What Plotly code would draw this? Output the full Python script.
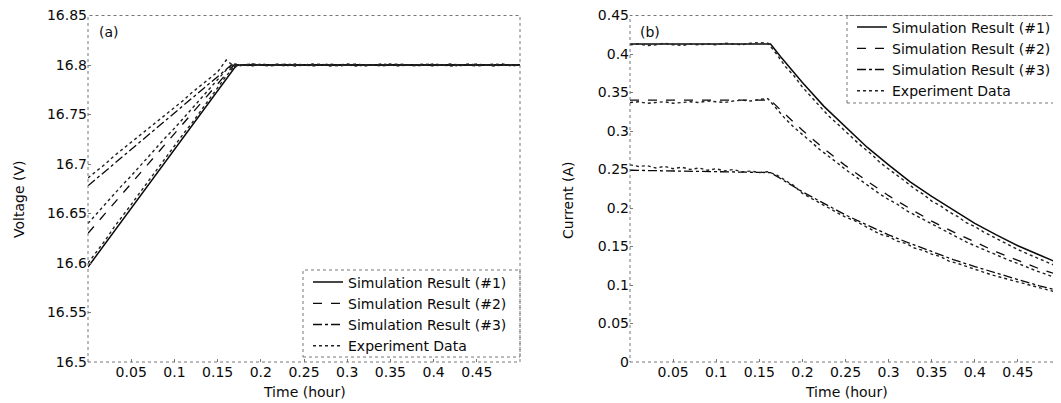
import plotly.graph_objects as go

# ---------------- data ----------------
x_ticks = [0.05, 0.1, 0.15, 0.2, 0.25, 0.3, 0.35, 0.4, 0.45]
x_tick_text = ["0.05", "0.1", "0.15", "0.2", "0.25", "0.3", "0.35", "0.4", "0.45"]
v_ticks = [16.5, 16.55, 16.6, 16.65, 16.7, 16.75, 16.8, 16.85]
v_tick_text = ["16.5", "16.55", "16.6", "16.65", "16.7", "16.75", "16.8", "16.85"]
i_ticks = [0, 0.05, 0.1, 0.15, 0.2, 0.25, 0.3, 0.35, 0.4, 0.45]
i_tick_text = ["0", "0.05", "0.1", "0.15", "0.2", "0.25", "0.3", "0.35", "0.4", "0.45"]

# simulated voltage (hour, V)
t_sim_v1 = [0.0, 0.172, 0.5]
sim_v1 = [16.596, 16.800, 16.800]
t_sim_v2 = [0.0, 0.169, 0.5]
sim_v2 = [16.630, 16.800, 16.800]
t_sim_v3 = [0.0, 0.166, 0.5]
sim_v3 = [16.678, 16.800, 16.800]

# measured data time grid (hour)
t_exp = [0.00, 0.01, 0.02, 0.03, 0.04, 0.05, 0.06, 0.07, 0.08, 0.09,
         0.10, 0.11, 0.12, 0.13, 0.14, 0.15, 0.16, 0.17, 0.18, 0.19,
         0.20, 0.21, 0.22, 0.23, 0.24, 0.25, 0.26, 0.27, 0.28, 0.29,
         0.30, 0.31, 0.32, 0.33, 0.34, 0.35, 0.36, 0.37, 0.38, 0.39,
         0.40, 0.41, 0.42, 0.43, 0.44, 0.45, 0.46, 0.47, 0.48, 0.49, 0.50]

exp_v1 = [16.600, 16.611, 16.623, 16.636, 16.647, 16.659, 16.671, 16.683, 16.694, 16.706,
          16.718, 16.730, 16.741, 16.753, 16.765, 16.777, 16.789, 16.799, 16.800, 16.801,
          16.800, 16.799, 16.800, 16.801, 16.800, 16.800, 16.799, 16.800, 16.801, 16.800,
          16.800, 16.799, 16.800, 16.800, 16.801, 16.800, 16.799, 16.800, 16.800, 16.801,
          16.800, 16.800, 16.799, 16.800, 16.800, 16.801, 16.800, 16.799, 16.800, 16.800, 16.800]
exp_v2 = [16.640, 16.650, 16.659, 16.669, 16.679, 16.688, 16.698, 16.707, 16.717, 16.727,
          16.736, 16.746, 16.756, 16.765, 16.775, 16.785, 16.795, 16.801, 16.800, 16.799,
          16.801, 16.800, 16.800, 16.799, 16.801, 16.800, 16.800, 16.801, 16.799, 16.800,
          16.801, 16.800, 16.799, 16.800, 16.800, 16.801, 16.800, 16.800, 16.799, 16.800,
          16.801, 16.800, 16.800, 16.799, 16.801, 16.800, 16.800, 16.800, 16.801, 16.799, 16.800]
exp_v3 = [16.686, 16.693, 16.700, 16.708, 16.715, 16.722, 16.729, 16.736, 16.743, 16.750,
          16.757, 16.764, 16.772, 16.779, 16.786, 16.793, 16.805, 16.798, 16.800, 16.801,
          16.800, 16.800, 16.801, 16.800, 16.799, 16.800, 16.801, 16.800, 16.800, 16.799,
          16.800, 16.801, 16.800, 16.800, 16.799, 16.800, 16.801, 16.800, 16.800, 16.800,
          16.799, 16.800, 16.801, 16.800, 16.800, 16.799, 16.800, 16.801, 16.800, 16.800, 16.800]

# simulated current (hour, A)
t_sim_i = [0.0, 0.163, 0.175, 0.2, 0.225, 0.25, 0.275, 0.3, 0.325, 0.35,
           0.375, 0.4, 0.425, 0.45, 0.475, 0.5]
sim_i1 = [0.413, 0.413, 0.396, 0.363, 0.332, 0.305, 0.279, 0.256, 0.234, 0.215,
          0.197, 0.180, 0.165, 0.151, 0.139, 0.127]
sim_i2 = [0.340, 0.340, 0.327, 0.301, 0.277, 0.255, 0.235, 0.216, 0.199, 0.183,
          0.169, 0.156, 0.143, 0.132, 0.121, 0.112]
sim_i3 = [0.249, 0.246, 0.238, 0.221, 0.206, 0.191, 0.178, 0.165, 0.154, 0.143,
          0.133, 0.124, 0.115, 0.107, 0.099, 0.092]

exp_i1 = [0.412, 0.413, 0.411, 0.412, 0.414, 0.412, 0.411, 0.413, 0.412, 0.413,
          0.412, 0.414, 0.413, 0.412, 0.414, 0.415, 0.414, 0.400, 0.384, 0.372,
          0.357, 0.345, 0.333, 0.320, 0.310, 0.299, 0.289, 0.279, 0.270, 0.259,
          0.251, 0.242, 0.234, 0.225, 0.218, 0.209, 0.203, 0.195, 0.189, 0.181,
          0.176, 0.169, 0.163, 0.158, 0.151, 0.146, 0.141, 0.136, 0.131, 0.127, 0.122]
exp_i2 = [0.337, 0.338, 0.336, 0.337, 0.338, 0.336, 0.337, 0.338, 0.337, 0.339,
          0.338, 0.337, 0.339, 0.340, 0.339, 0.341, 0.342, 0.329, 0.316, 0.305,
          0.296, 0.286, 0.276, 0.268, 0.259, 0.250, 0.242, 0.233, 0.226, 0.218,
          0.211, 0.205, 0.197, 0.191, 0.185, 0.179, 0.173, 0.167, 0.162, 0.156,
          0.151, 0.146, 0.141, 0.137, 0.132, 0.128, 0.123, 0.119, 0.115, 0.111, 0.107]
exp_i3 = [0.256, 0.254, 0.255, 0.252, 0.254, 0.251, 0.253, 0.250, 0.252, 0.249,
          0.251, 0.248, 0.250, 0.247, 0.248, 0.246, 0.247, 0.243, 0.236, 0.229,
          0.219, 0.213, 0.207, 0.200, 0.195, 0.188, 0.184, 0.178, 0.173, 0.166,
          0.163, 0.157, 0.154, 0.148, 0.145, 0.140, 0.137, 0.131, 0.128, 0.124,
          0.120, 0.117, 0.113, 0.110, 0.107, 0.103, 0.101, 0.097, 0.095, 0.092, 0.089]

series_names = ["Simulation Result (#1)", "Simulation Result (#2)",
                "Simulation Result (#3)", "Experiment Data"]

# ---------------- figure ----------------
# the html page has an 8px body margin, so the figure starts at (8, 8)
OFF = 8
W, H = 1061 - OFF, 403 - OFF
FONT = "DejaVu Sans, Liberation Sans, Arial, sans-serif"
INK = "#0a0a0a"
BOX = "#777777"

def px(x):
    return (x - OFF) / W

def py(y):
    return 1 - (y - OFF) / H

fig = go.Figure()

sim_styles = [dict(color=INK, width=1.5, dash="solid"),
              dict(color=INK, width=1.3, dash="dash"),
              dict(color=INK, width=1.3, dash="dashdot")]
exp_style = dict(color="#222222", width=1.4, dash="dot")

# panel (a)
for k, (tt, vv) in enumerate([(t_sim_v1, sim_v1), (t_sim_v2, sim_v2), (t_sim_v3, sim_v3)]):
    fig.add_trace(go.Scatter(x=tt, y=vv, mode="lines", name=series_names[k],
                             line=sim_styles[k], xaxis="x", yaxis="y",
                             legend="legend"))
for k, vv in enumerate([exp_v1, exp_v2, exp_v3]):
    fig.add_trace(go.Scatter(x=t_exp, y=vv, mode="lines", name=series_names[3],
                             line=exp_style, xaxis="x", yaxis="y",
                             legend="legend", showlegend=(k == 0)))

# panel (b)
for k, ii in enumerate([sim_i1, sim_i2, sim_i3]):
    fig.add_trace(go.Scatter(x=t_sim_i, y=ii, mode="lines", name=series_names[k],
                             line=sim_styles[k], xaxis="x2", yaxis="y2",
                             legend="legend2"))
for k, ii in enumerate([exp_i1, exp_i2, exp_i3]):
    fig.add_trace(go.Scatter(x=t_exp, y=ii, mode="lines", name=series_names[3],
                             line=exp_style, xaxis="x2", yaxis="y2",
                             legend="legend2", showlegend=(k == 0)))

left_dom = [px(88), px(520)]
right_dom = [px(630), 1.0]
y_dom = [py(362), py(15.5)]

tickfont = dict(family=FONT, size=14, color=INK)
common_x = dict(tickmode="array", tickvals=x_ticks, ticktext=x_tick_text,
                showgrid=False, zeroline=False, showline=False,
                ticks="inside", ticklen=3, tickcolor=BOX, tickfont=tickfont,
                automargin=False, ticklabeloverflow="allow")
common_y = dict(showgrid=False, zeroline=False, showline=False,
                ticks="inside", ticklen=3, tickcolor=BOX, tickfont=tickfont,
                automargin=False, tickmode="array", ticklabeloverflow="allow")

legend_common = dict(font=dict(family=FONT, size=14, color=INK),
                     bgcolor="rgba(0,0,0,0)", borderwidth=0,
                     xanchor="left", yanchor="middle", tracegroupgap=0,
                     itemwidth=30)

fig.update_layout(
    width=W, height=H,
    margin=dict(l=0, r=0, t=0, b=0),
    paper_bgcolor="white", plot_bgcolor="white",
    font=dict(family=FONT, color=INK),
    xaxis=dict(domain=left_dom, range=[0, 0.5], anchor="y", **common_x),
    yaxis=dict(domain=y_dom, range=[16.5, 16.85], anchor="x",
               tickvals=v_ticks, ticktext=v_tick_text, **common_y),
    xaxis2=dict(domain=right_dom, range=[0, 0.5], anchor="y2", **common_x),
    yaxis2=dict(domain=y_dom, range=[0, 0.45], anchor="x2",
                tickvals=i_ticks, ticktext=i_tick_text, **common_y),
    legend=dict(x=px(308), y=py(314), **legend_common),
    legend2=dict(x=px(852), y=py(59), **legend_common),
)

# dotted plot boxes and legend boxes
shapes = []
for xr, yr in [("x domain", "y domain"), ("x2 domain", "y2 domain")]:
    shapes.append(dict(type="rect", xref=xr, yref=yr, x0=0, x1=1, y0=0, y1=1,
                       line=dict(color=BOX, width=1, dash="dot"), layer="above"))
shapes.append(dict(type="rect", xref="paper", yref="paper",
                   x0=px(303), x1=px(520), y0=py(357), y1=py(270),
                   line=dict(color=BOX, width=1, dash="dot"), layer="above"))
shapes.append(dict(type="rect", xref="paper", yref="paper",
                   x0=px(847), x1=1.0, y0=py(103), y1=py(15.5),
                   line=dict(color=BOX, width=1, dash="dot"), layer="above"))
fig.update_layout(shapes=shapes)

title_font = dict(family=FONT, size=14, color=INK)
ann_common = dict(xref="paper", yref="paper", showarrow=False,
                  xanchor="center", yanchor="middle")
annotations = [
    dict(text="Voltage (V)", x=px(19), y=py(200), textangle=-90,
         font=title_font, **ann_common),
    dict(text="Current (A)", x=px(568), y=py(200), textangle=-90,
         font=title_font, **ann_common),
    dict(text="Time (hour)", x=px(304), y=py(392), font=title_font, **ann_common),
    dict(text="Time (hour)", x=px(846), y=py(392), font=title_font, **ann_common),
    dict(text="(a)", x=px(109), y=py(32),
         font=dict(family=FONT, size=14, color=INK), **ann_common),
    dict(text="(b)", x=px(650), y=py(32),
         font=dict(family=FONT, size=14, color=INK), **ann_common),
]
fig.update_layout(annotations=annotations)

fig.write_html("out.html")
